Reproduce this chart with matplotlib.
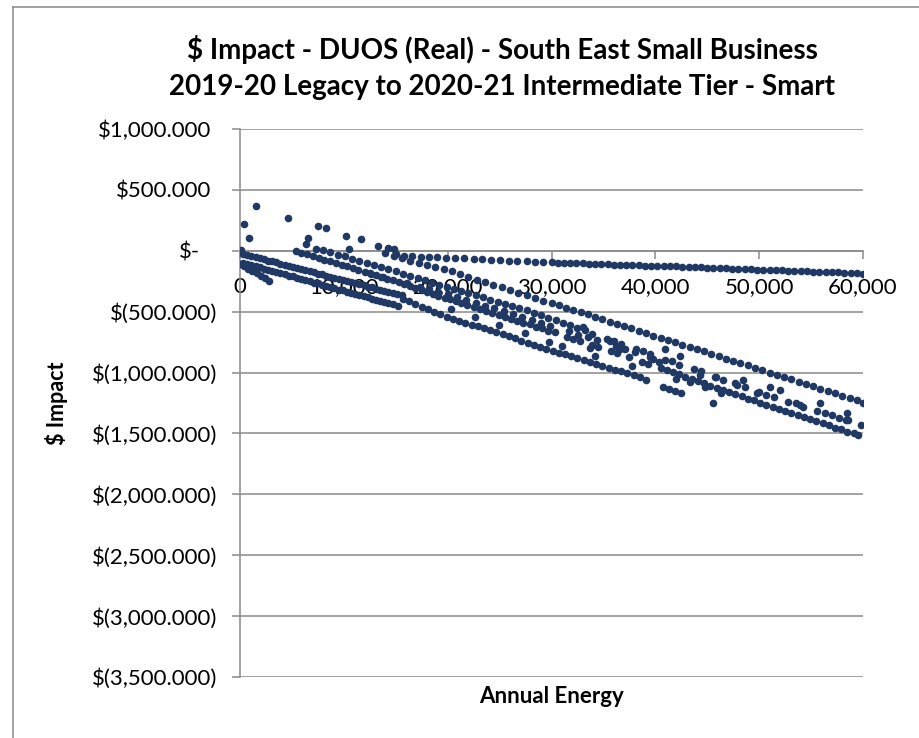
import numpy as np
import matplotlib.pyplot as plt
from matplotlib.ticker import FuncFormatter, MultipleLocator
from matplotlib.lines import Line2D

# Points, grouped by the visible bands (annual energy, $ impact)
# flat band just below zero
flat_energy = [15000, 15800, 16600, 17400, 18200, 19000, 19800, 20700, 21600, 22500, 23300, 24200,
               25000, 25900, 26700, 27600, 28400, 29200, 30000, 30600, 31200, 31800, 32400, 33000,
               33600, 34200, 34800, 35400, 36000, 36600, 37200, 37800, 38400, 39000, 39600, 40200,
               40800, 41400, 42000, 42600, 43200, 43800, 44400, 45000, 45600, 46200, 46800, 47400,
               48000, 48600, 49200, 49800, 50400, 51000, 51600, 52200, 52800, 53400, 54000, 54600,
               55200, 55800, 56400, 57000, 57600, 58200, 58800, 59400, 60000]
flat_impact = [-30, -41, -45, -49, -53, -55, -58, -60, -63, -66, -70, -72,
               -78, -82, -84, -87, -90, -92, -96, -98, -99, -101, -103, -104,
               -106, -108, -110, -111, -113, -115, -116, -118, -119, -121, -122, -124,
               -126, -127, -129, -131, -132, -134, -136, -138, -140, -142, -144, -146,
               -148, -150, -152, -154, -156, -158, -159, -161, -163, -165, -167, -169,
               -171, -172, -174, -176, -178, -180, -182, -184, -188]

# upper sloping band
upper_energy = [14000, 14800, 15600, 16400, 17200, 18000, 18800, 19600, 20400, 21200, 22000, 22800,
                23600, 24400, 25200, 26000, 26800, 27600, 28400, 29200, 30000, 30700, 31400, 32100,
                32800, 33500, 34200, 34900, 35600, 36300, 37000, 37700, 38400, 39100, 39800, 40500,
                41200, 41900, 42600, 43300, 44000, 44700, 45400, 46100, 46800, 47500, 48200, 48900,
                49600, 50300, 51000, 51700, 52400, 53100, 53800, 54500, 55200, 55900, 56600, 57300,
                58000, 58700, 59400, 60000]
upper_impact = [-20, -42, -63, -86, -98, -117, -131, -148, -168, -192, -213, -236,
                -257, -281, -299, -324, -344, -367, -389, -409, -431, -447, -467, -485,
                -506, -523, -544, -561, -582, -599, -620, -637, -658, -675, -696, -713,
                -734, -751, -772, -789, -810, -827, -848, -865, -886, -903, -924, -941,
                -962, -979, -1000, -1017, -1038, -1055, -1076, -1093, -1114, -1131, -1152, -1169,
                -1190, -1207, -1229, -1252]

# two dense lines starting at the origin
start1_energy = [300, 700, 1100, 1500, 1900, 2300, 2700, 3100, 3500, 3900, 4300, 4700, 5100,
                 5500, 5900, 6300, 6700, 7100, 7500, 7900, 8300, 8700, 9100, 9500, 9900, 10300,
                 10700, 11100, 11500, 11900, 12300, 12700, 13100, 13500, 13900, 14300, 14700,
                 15100, 15600]
start1_impact = [-25, -35, -43, -53, -61, -69, -80, -88, -96, -107, -114, -125, -133,
                 -141, -151, -158, -169, -176, -187, -194, -205, -212, -223, -230, -241, -248,
                 -259, -265, -276, -283, -294, -301, -312, -319, -330, -337, -348, -355, -367]
start2_energy = [300, 700, 1100, 1500, 1900, 2300, 2700, 3100, 3500, 3900, 4300, 4700, 5100,
                 5500, 5900, 6300, 6700, 7100, 7500, 7900, 8300, 8700, 9100, 9500, 9900, 10300,
                 10700, 11100, 11500, 11900, 12300, 12700, 13100, 13500, 13900, 14300, 14700, 15200]
start2_impact = [-98, -109, -116, -128, -135, -147, -154, -166, -173, -185, -192, -204, -211,
                 -223, -230, -242, -249, -261, -268, -280, -287, -299, -306, -318, -325, -337,
                 -344, -356, -363, -375, -382, -394, -401, -413, -420, -432, -439, -452]
short_energy = [0, 400, 800, 1200, 1600, 2000, 2400, 2800]
short_impact = [-110, -129, -147, -167, -185, -206, -224, -245]

# long band starting near 5,400 and running to the bottom right corner
long_energy = [5400, 5900, 6500, 7000, 7600, 8100, 8700, 9200, 9800, 10300, 10900, 11400, 12000,
               12500, 13100, 13600, 14200, 14700, 15300, 15800, 16400, 16900, 17500, 18000, 18600,
               19100, 19700, 20200, 20800, 21300, 21900, 22500, 23100, 23700, 24300, 24900, 25500,
               26100, 26700, 27300, 27900, 28500, 29100, 29700, 30300, 31500, 32100, 32700, 33900,
               34500, 35700, 36300, 37500, 38700, 39300, 40500, 41100, 41700, 42300, 42900, 43500,
               44100, 44700, 45300, 45900, 46500, 47100, 47700, 48300, 48900, 49500, 50100, 50700,
               51300, 51900, 52500, 53100, 53700, 54300, 54900, 55500, 56100, 56700, 57300, 57900,
               58500, 59100, 59500]
long_impact = [0, -15, -29, -44, -57, -73, -86, -101, -114, -129, -143, -158, -171,
               -186, -199, -215, -228, -244, -258, -274, -289, -306, -321, -337, -352,
               -369, -384, -400, -415, -432, -446, -464, -478, -495, -509, -527, -541,
               -559, -573, -591, -605, -623, -637, -656, -671, -707, -722, -741, -773,
               -792, -824, -843, -875, -911, -926, -963, -979, -999, -1015, -1035, -1051,
               -1071, -1087, -1107, -1123, -1143, -1159, -1179, -1195, -1214, -1229, -1248, -1263,
               -1282, -1297, -1316, -1331, -1350, -1365, -1384, -1399, -1418, -1433, -1452, -1467,
               -1486, -1497, -1513]

# middle band, loose towards the right
middle_energy = [8000, 8700, 9400, 10100, 10800, 11500, 12200, 12900, 13600, 14300, 15000, 15700,
                 16400, 17100, 17800, 18500, 19200, 19900, 20600, 21300, 22000, 22700, 23400, 24100,
                 24800, 25500, 26200, 26900, 27600, 28300, 29000, 29700, 30400, 31100, 31800, 32500,
                 33200, 33900, 35300, 36000, 36700, 38100, 38800, 39500, 40900, 41600, 42300,
                 43700, 44400, 45800, 46500, 47900, 48600, 50000, 50700, 51400, 52800, 53500,
                 54200, 55600, 56300, 57700, 58400, 59800]
middle_impact = [5, -12, -31, -45, -66, -81, -100, -119, -134, -151, -170, -188,
                 -204, -225, -241, -261, -277, -297, -312, -331, -347, -367, -383, -402,
                 -418, -438, -454, -473, -489, -511, -529, -553, -571, -596, -611, -637,
                 -654, -681, -721, -739, -764, -807, -821, -849, -893, -904, -936,
                 -974, -991, -1034, -1061, -1099, -1116, -1159, -1181, -1199, -1241, -1254,
                 -1281, -1317, -1336, -1371, -1393, -1433]

# dotted band between the middle and long bands
between_energy = [18200, 19100, 20000, 20900, 21800, 22700, 23600, 24500, 25400, 26300, 27200,
                  28100, 29000, 29900, 31700, 32600, 33500, 34400, 36200, 37100, 38000, 39800]
between_impact = [-312, -338, -356, -378, -402, -428, -451, -470, -498, -520, -545,
                  -568, -590, -615, -662, -688, -710, -735, -785, -808, -832, -890]

# lowest band, ending around 45,000
lower_energy = [15700, 16300, 16900, 17500, 18100, 18700, 19300, 19900, 20500, 21100, 21700, 22300,
                22900, 23500, 24100, 24700, 25300, 25900, 26500, 27100, 27700, 28300, 28900, 29500,
                30100, 30700, 31300, 31900, 32500, 33100, 33700, 34300, 34900, 35500, 36100, 36700,
                37300, 37900, 38500, 39100, 40700, 41300, 41900, 42500, 45600]
lower_impact = [-393, -415, -435, -458, -477, -501, -520, -541, -557, -575, -589, -606,
                -619, -638, -651, -669, -682, -701, -717, -738, -754, -774, -789, -807,
                -821, -837, -849, -867, -881, -899, -914, -933, -947, -963, -975, -991,
                -1001, -1021, -1039, -1063, -1122, -1139, -1151, -1166, -1253]

# loose points above zero and in between the bands
loose_energy = [100, 385, 870, 1540, 4620, 6360, 6550, 7320, 7510, 8280, 10200, 10500,
                11650, 13290, 14250, 14830, 33000, 33700, 35600, 36600, 39500, 40400, 40900,
                42400, 43300, 44300, 45700, 47700, 49800, 51000, 52000, 53900, 55900, 57000,
                58500, 58600, 20300, 22600, 24900, 27400, 29800, 31000, 34200, 37800, 42000,
                44800, 46300, 48400, 12600, 13800, 16100, 17300]
loose_impact = [8, 221, 106, 369, 270, 57, 106, 16, 205, 188, 123, 16,
                98, 41, 25, 16, -630, -795, -737, -803, -876, -917, -803,
                -860, -1081, -1024, -1040, -1089, -1171, -1122, -1147, -1270, -1253, -1351,
                -1335, -1392, -478, -545, -612, -672, -745, -780, -865, -945, -1050,
                -1120, -1165, -1060, -190, -215, -262, -300]

energy = np.concatenate([flat_energy, upper_energy, start1_energy, start2_energy, short_energy,
                         long_energy, middle_energy, between_energy, lower_energy, loose_energy])
impact = np.concatenate([flat_impact, upper_impact, start1_impact, start2_impact, short_impact,
                         long_impact, middle_impact, between_impact, lower_impact, loose_impact])

plt.rcParams['font.family'] = ['Lato', 'DejaVu Sans']

fig = plt.figure(figsize=(9.19, 7.38), dpi=100)
ax = fig.add_axes([240 / 919, 1 - 677 / 738, 623 / 919, 548 / 738])

grey = '#8a8a8a'
ax.scatter(energy, impact, s=30, color='#1f3864', linewidths=0, zorder=3)

ax.set_xlim(0, 60000)
ax.set_ylim(-3500, 1000)
ax.xaxis.set_major_locator(MultipleLocator(10000))
ax.yaxis.set_major_locator(MultipleLocator(500))
ax.xaxis.set_major_formatter(FuncFormatter(lambda v, p: f'{v:,.0f}'))


def money(v, pos):
    if abs(v) < 1e-6:
        return '$-'
    if v > 0:
        return f'${v:,.3f}'
    return f'$({-v:,.3f})'


ax.yaxis.set_major_formatter(FuncFormatter(money))

ax.grid(axis='y', color=grey, lw=1.1)
ax.set_axisbelow(True)
for side in ['top', 'right']:
    ax.spines[side].set_visible(False)
ax.spines['left'].set_color(grey)
ax.spines['left'].set_linewidth(1.1)
ax.spines['bottom'].set_position(('data', 0))
ax.spines['bottom'].set_color(grey)
ax.spines['bottom'].set_linewidth(1.1)

ax.tick_params(axis='y', direction='out', length=6, width=1.1, color=grey, pad=10, labelsize=16)
ax.tick_params(axis='x', direction='out', length=6, width=1.1, color=grey, pad=13, labelsize=16)

# accounting style alignment: positive values and the dash sit further left
fig.canvas.draw()
locs = ax.get_yticks()
for tick, loc in zip(ax.yaxis.get_major_ticks(len(locs)), locs):
    if abs(loc) < 1e-6:
        tick.label1.set_x(-18 / 623)
    elif loc > 0:
        tick.label1.set_x(-6 / 623)

ax.set_ylabel('$ Impact', fontsize=15.5, fontweight='bold')
ax.yaxis.set_label_coords((68 - 240) / 623, 0.5)
ax.set_xlabel('Annual Energy', fontsize=16, fontweight='bold')
ax.xaxis.set_label_coords((551 - 240) / 623, (677 - 686) / 548)

fig.text(502 / 919, 1 - 50 / 738, '$ Impact - DUOS (Real) - South East Small Business',
         ha='center', va='center', fontsize=20, fontweight='bold')
fig.text(502 / 919, 1 - 87 / 738, '2019-20 Legacy to 2020-21 Intermediate Tier - Smart',
         ha='center', va='center', fontsize=20, fontweight='bold')

# chart area border
fig.add_artist(Line2D([13 / 919, 13 / 919], [0, 1 - 7 / 738], transform=fig.transFigure, color=grey, lw=1.1))
fig.add_artist(Line2D([13 / 919, 1], [1 - 7 / 738, 1 - 7 / 738], transform=fig.transFigure, color=grey, lw=1.1))

fig.savefig('out.png', dpi=100)
